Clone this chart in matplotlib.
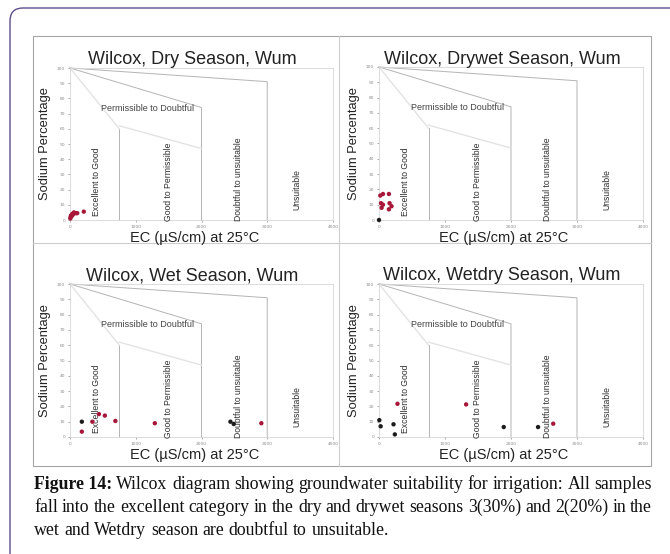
import matplotlib
matplotlib.use("Agg")
import matplotlib.pyplot as plt
from matplotlib.patches import FancyBboxPatch, Rectangle
from matplotlib.lines import Line2D

# ===========================
# Data
# ===========================
panel_titles = [
    "Wilcox, Dry Season, Wum",
    "Wilcox, Drywet Season, Wum",
    "Wilcox, Wet Season, Wum",
    "Wilcox, Wetdry Season, Wum",
]

dry_ec = [5, 10, 15, 25, 35, 45, 60, 90, 110, 210]
dry_na = [1, 2, 3, 2.5, 4, 3.5, 5, 4.5, 4.5, 5.5]
dry_cls = ["r"] * 10

drywet_ec = [20, 60, 150, 30, 60, 160, 190, 40, 150, 0]
drywet_na = [16, 17, 17, 11, 10, 11, 9, 8, 7, 0]
drywet_cls = ["r"] * 9 + ["k"]

wet_ec = [180, 180, 340, 440, 530, 690, 1290, 2440, 2490, 2910]
wet_na = [10, 3.5, 10, 15, 14, 10.5, 9, 10, 8.5, 9]
wet_cls = ["k", "r", "r", "r", "r", "r", "r", "k", "k", "r"]

wetdry_ec = [5, 25, 220, 240, 280, 1320, 1890, 2410, 2640]
wetdry_na = [11, 7, 8.3, 1.7, 21.7, 21.3, 6.5, 6.5, 8.7]
wetdry_cls = ["k", "k", "k", "k", "r", "r", "k", "k", "r"]

x_ticks = [0, 1000, 2000, 3000, 4000]
y_ticks = [0, 10, 20, 30, 40, 50, 60, 70, 80, 90, 100]

# diagram boundaries (EC, %Na)
boundaries = [
    ([0, 3000, 3000], [100, 91, 0]),
    ([0, 2000, 2000], [100, 74, 0]),
    ([750, 750], [60, 0]),
]
faint_boundaries = [([0, 750], [100, 60]), ([750, 2000], [62, 47])]

zone_labels = ["Excellent to Good", "Good to Permissible", "Doubtful to unsuitable", "Unsuitable"]
zone_x = [400, 1500, 2560, 3450]
zone_y = [25, 25, 27, 20]
top_zone = "Permissible to Doubtful"

caption_lines = [
    "Figure 14: Wilcox diagram showing groundwater suitability for irrigation: All samples",
    "fall into the excellent category in the dry and drywet seasons 3(30%) and 2(20%) in the",
    "wet and Wetdry season are doubtful to unsuitable.",
]

W, H = 670, 554
RED = "#a8173a"
BLK = "#1c1c1c"
SANS = "Liberation Sans"
SERIF = "Liberation Serif"


def fx(x):
    return x / W


def fy(y):
    return 1 - y / H


fig = plt.figure(figsize=(6.7, 5.54), dpi=100)

# outer rounded frame (runs off right and bottom)
fig.patches.append(FancyBboxPatch((0.10, -0.6), 7.2, 6.06,
                                  boxstyle="round,pad=0,rounding_size=0.13",
                                  transform=fig.dpi_scale_trans,
                                  fill=False, edgecolor="#5d4e8c", linewidth=1.0))

# inner picture box + panel dividers
box_l, box_r, box_t, box_b = 33, 651, 36, 466
fig.patches.append(Rectangle((fx(box_l), fy(box_b)), fx(box_r) - fx(box_l), fy(box_t) - fy(box_b),
                             transform=fig.transFigure, fill=False, edgecolor="#a5a5a5", linewidth=0.8))
fig.lines.append(Line2D([fx(339), fx(339)], [fy(box_t), fy(box_b)], transform=fig.transFigure,
                        color="#cdcdcd", linewidth=0.8))
fig.lines.append(Line2D([fx(box_l), fx(box_r)], [fy(243), fy(243)], transform=fig.transFigure,
                        color="#cdcdcd", linewidth=0.8))

# axes rectangles in pixels: left, right, top, bottom
ax_px = [(70, 333, 68, 220), (379, 643, 67, 220), (70, 333, 284, 437), (379, 643, 284, 437)]
series = [(dry_ec, dry_na, dry_cls), (drywet_ec, drywet_na, drywet_cls),
          (wet_ec, wet_na, wet_cls), (wetdry_ec, wetdry_na, wetdry_cls)]

for i, (l, r, t, b) in enumerate(ax_px):
    ax = fig.add_axes([fx(l), fy(b), fx(r) - fx(l), fy(t) - fy(b)])
    ax.set_xlim(0, 4000)
    ax.set_ylim(0, 100)
    ax.set_xticks(x_ticks)
    ax.set_yticks(y_ticks)
    ax.set_xticklabels([str(v) for v in x_ticks])
    ax.set_yticklabels([str(v) for v in y_ticks])
    ax.tick_params(labelsize=3.2, colors="#8a8a8a", length=1.5, width=0.5, pad=2)
    for s in ax.spines.values():
        s.set_color("#d6d6d6")
        s.set_linewidth(0.6)

    for bx, by in boundaries:
        ax.plot(bx, by, color="#b4b4b4", linewidth=0.7, clip_on=False)
    for bx, by in faint_boundaries:
        ax.plot(bx, by, color="#e3e3e3", linewidth=1.0)

    for lab, zx, zy in zip(zone_labels, zone_x, zone_y):
        ax.text(zx, zy, lab, rotation=90, ha="center", va="center",
                fontsize=6.2, family=SANS, color="#2e2e2e")
    ax.text(1185, 73.5, top_zone, ha="center", va="center", fontsize=6.5,
            family=SANS, color="#444444")

    ec, na, cls = series[i]
    cols = [RED if c == "r" else BLK for c in cls]
    ax.scatter(ec, na, s=10, c=cols, linewidths=0, zorder=5, clip_on=False)

    cx = (l + r) / 2
    fig.text(fx(cx - 9), fy(t - 8), panel_titles[i], ha="center", va="center",
             fontsize=13, family=SANS, color="#222222")
    fig.text(fx(l - 25), fy((t + b) / 2), "Sodium Percentage", rotation=90,
             ha="center", va="center", fontsize=9.3, family=SANS, color="#222222")
    fig.text(fx(cx - 7), fy(b + 18), "EC (µS/cm) at 25°C", ha="center", va="center",
             fontsize=10.5, family=SANS, color="#222222")

# caption, first two lines justified
renderer = fig.canvas.get_renderer()
cap_x0, cap_x1 = 34, 652
cap_base = [489, 512, 535]


def word_widths(words, fs, bold_first):
    out = []
    for j, w in enumerate(words):
        weight = "bold" if (bold_first and j == 0) else "normal"
        t = fig.text(0, 0, w, fontsize=fs, family=SERIF, fontweight=weight)
        out.append(t.get_window_extent(renderer=renderer).width)
        t.remove()
    return out


split_lines = []
for k, line in enumerate(caption_lines):
    words = line.split(" ")
    if k == 0:
        words = ["Figure 14:"] + words[2:]
    split_lines.append(words)

# largest size where the first two lines still leave normal word gaps
cap_fs = 14.0
while cap_fs > 10:
    ok = True
    for k in range(2):
        ws = word_widths(split_lines[k], cap_fs, k == 0)
        gap = (cap_x1 - cap_x0 - sum(ws)) / (len(ws) - 1)
        if gap < cap_fs * 100 / 72 * 0.22:
            ok = False
    if ok:
        break
    cap_fs -= 0.25

for k, words in enumerate(split_lines):
    ws = word_widths(words, cap_fs, k == 0)
    if k < 2:
        gap = (cap_x1 - cap_x0 - sum(ws)) / (len(words) - 1)
    else:
        gap = cap_fs * 100 / 72 * 0.25
    x = cap_x0
    for j, (w, wd) in enumerate(zip(words, ws)):
        weight = "bold" if (k == 0 and j == 0) else "normal"
        fig.text(fx(x), fy(cap_base[k]), w, fontsize=cap_fs, family=SERIF,
                 fontweight=weight, va="baseline", color="#111111")
        x += wd + gap

fig.savefig("out.png", dpi=100)
